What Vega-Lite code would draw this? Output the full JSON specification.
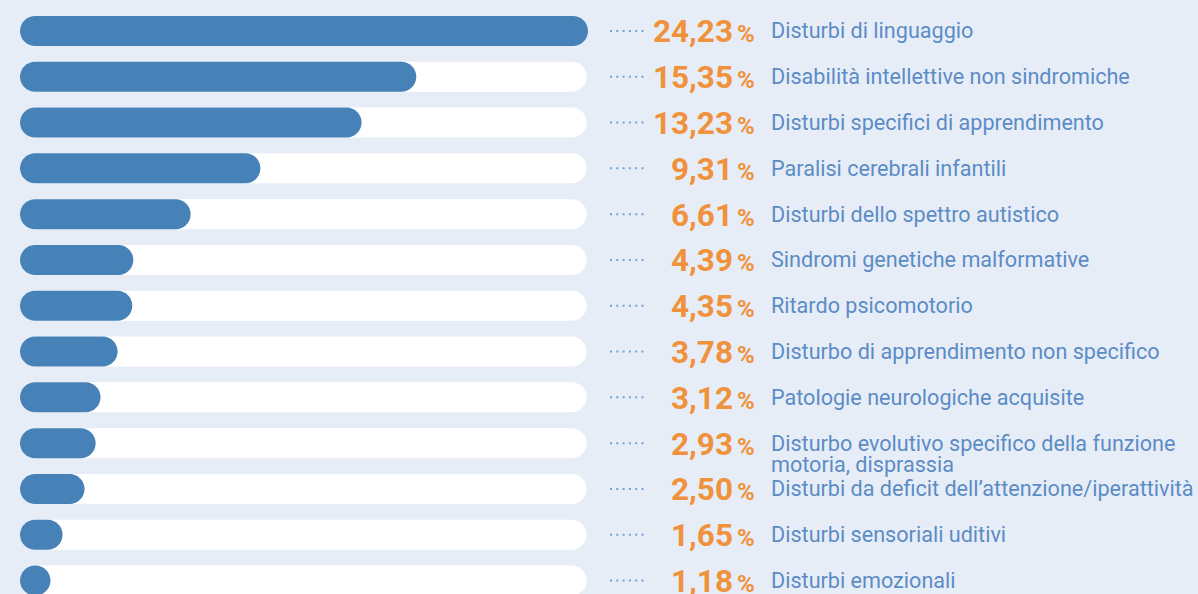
{
  "$schema": "https://vega.github.io/schema/vega-lite/v6.json",
  "width": 1198,
  "height": 594,
  "padding": 0,
  "autosize": {"type": "none"},
  "background": "#e7edf7",
  "config": {
    "view": {"stroke": null},
    "locale": {"number": {"decimal": ",", "thousands": ".", "grouping": [3], "currency": ["", " €"]}}
  },
  "data": {
    "values": [
      {"label": "Disturbi di linguaggio", "pct": 24.23},
      {"label": "Disabilità intellettive non sindromiche", "pct": 15.35},
      {"label": "Disturbi specifici di apprendimento", "pct": 13.23},
      {"label": "Paralisi cerebrali infantili", "pct": 9.31},
      {"label": "Disturbi dello spettro autistico", "pct": 6.61},
      {"label": "Sindromi genetiche malformative", "pct": 4.39},
      {"label": "Ritardo psicomotorio", "pct": 4.35},
      {"label": "Disturbo di apprendimento non specifico", "pct": 3.78},
      {"label": "Patologie neurologiche acquisite", "pct": 3.12},
      {"label": "Disturbo evolutivo specifico della funzione\nmotoria, disprassia", "pct": 2.93},
      {"label": "Disturbi da deficit dell’attenzione/iperattività", "pct": 2.50},
      {"label": "Disturbi sensoriali uditivi", "pct": 1.65},
      {"label": "Disturbi emozionali", "pct": 1.18}
    ]
  },
  "encoding": {
    "y": {
      "field": "label",
      "type": "nominal",
      "sort": null,
      "axis": null,
      "scale": {"range": [8, 603.5], "paddingInner": 0, "paddingOuter": 0}
    }
  },
  "layer": [
    {
      "mark": {"type": "bar", "color": "#ffffff", "size": 30, "cornerRadius": 15},
      "encoding": {
        "x": {"datum": 0, "type": "quantitative", "scale": {"domain": [0, 21.95], "range": [20, 588], "clamp": true}, "axis": null},
        "x2": {"datum": 21.95}
      }
    },
    {
      "mark": {"type": "bar", "color": "#4682b8", "size": 30, "cornerRadius": 15},
      "encoding": {
        "x": {"field": "pct", "type": "quantitative"},
        "x2": {"datum": 0}
      }
    },
    {
      "mark": {"type": "rule", "color": "#6fa3d6", "strokeWidth": 2, "strokeDash": [2, 4.3], "strokeCap": "butt"},
      "encoding": {
        "x": {"value": 610},
        "x2": {"value": 644}
      }
    },
    {
      "mark": {"type": "text", "align": "right", "baseline": "alphabetic", "dy": 11.5, "font": "Roboto", "fontWeight": "bold", "fontSize": 31.5, "color": "#f0913b"},
      "encoding": {
        "x": {"value": 733},
        "text": {"field": "pct", "type": "quantitative", "format": ".2f"}
      }
    },
    {
      "mark": {"type": "text", "align": "left", "baseline": "alphabetic", "dy": 11.5, "font": "Roboto", "fontWeight": "bold", "fontSize": 24, "color": "#f0913b", "text": "%"},
      "encoding": {
        "x": {"value": 737}
      }
    },
    {
      "mark": {"type": "text", "align": "left", "baseline": "middle", "dy": 1.5, "font": "Roboto", "fontSize": 21.6, "lineHeight": 21, "lineBreak": "\n", "color": "#5b8cc6"},
      "encoding": {
        "x": {"value": 771},
        "text": {"field": "label", "type": "nominal"}
      }
    }
  ]
}
